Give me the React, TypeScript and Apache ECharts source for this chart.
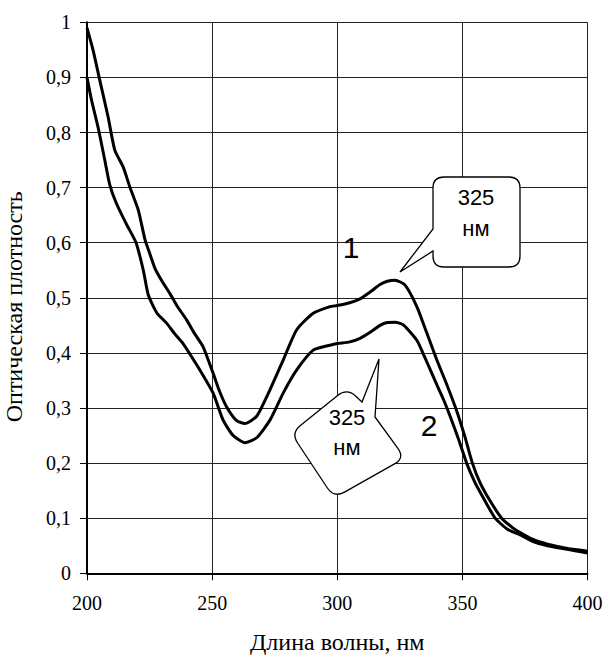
import React, { useEffect, useRef } from "react";
import * as echarts from "echarts";

// Wavelength (nm) and optical density readings for curve 1 (upper)
const curve1Wavelength = [200, 202.4, 205.1, 208.4, 211.1, 214.4, 217.2, 220.5, 223.2, 225.1, 227.2, 230, 233.1, 236, 239.8, 243, 246.4, 250.4, 253, 255.8, 259.8, 263.1, 267.8, 273.1, 278.4, 283.8, 290.4, 297.1, 300, 305, 309.1, 313, 317.1, 320, 323.1, 327.1, 331.8, 335.8, 339.8, 343.3, 347.7, 351, 354, 357, 361, 365.7, 370, 373.1, 378, 384, 390, 395, 400];
const curve1Density = [0.99, 0.95, 0.895, 0.829, 0.768, 0.738, 0.7, 0.659, 0.605, 0.58, 0.553, 0.53, 0.508, 0.485, 0.46, 0.435, 0.411, 0.363, 0.33, 0.302, 0.277, 0.272, 0.285, 0.333, 0.387, 0.442, 0.472, 0.484, 0.486, 0.491, 0.498, 0.51, 0.524, 0.53, 0.532, 0.523, 0.484, 0.436, 0.387, 0.348, 0.295, 0.248, 0.2, 0.165, 0.132, 0.1, 0.083, 0.074, 0.062, 0.053, 0.047, 0.043, 0.04];

// Curve 2 (lower)
const curve2Wavelength = [200, 201.8, 204.4, 207.1, 209.1, 211.6, 215.6, 219.6, 222.5, 224.5, 228, 231.8, 235, 238.4, 241.8, 245.1, 250.4, 254.4, 258.4, 263.1, 267.8, 273.1, 278.4, 283.8, 290.4, 297.1, 300, 305, 309.1, 313, 317.1, 320, 323.1, 326.4, 331.8, 334.5, 337.1, 340, 342.5, 345.1, 348.5, 351.7, 355, 358, 363.1, 368, 373.1, 378, 384, 390, 395, 400];
const curve2Density = [0.9, 0.859, 0.81, 0.75, 0.705, 0.673, 0.635, 0.6, 0.55, 0.505, 0.472, 0.454, 0.435, 0.417, 0.393, 0.369, 0.327, 0.278, 0.25, 0.237, 0.246, 0.278, 0.327, 0.369, 0.405, 0.414, 0.417, 0.42, 0.4265, 0.437, 0.45, 0.455, 0.4555, 0.451, 0.423, 0.397, 0.37, 0.34, 0.315, 0.285, 0.243, 0.2, 0.165, 0.14, 0.1, 0.08, 0.0695, 0.058, 0.05, 0.045, 0.041, 0.037];

const xTicks = [200, 250, 300, 350, 400];
const yTicks = [0, 0.1, 0.2, 0.3, 0.4, 0.5, 0.6, 0.7, 0.8, 0.9, 1];

const xTitle = "Длина волны, нм";
const yTitle = "Оптическая плотность";
const curveLabels = ["1", "2"];
const calloutLines = ["325", "нм"];

type V = [number, number, number];

function roundedPath(pts: V[]): string {
  const n = pts.length;
  let d = "";
  const f = (v: number) => v.toFixed(1);
  for (let i = 0; i < n; i++) {
    const [x, y, r] = pts[i];
    const [px, py] = pts[(i - 1 + n) % n];
    const [nx, ny] = pts[(i + 1) % n];
    if (r > 0) {
      const l0 = Math.hypot(px - x, py - y);
      const l1 = Math.hypot(nx - x, ny - y);
      const ax = x + ((px - x) * r) / l0;
      const ay = y + ((py - y) * r) / l0;
      const bx = x + ((nx - x) * r) / l1;
      const by = y + ((ny - y) * r) / l1;
      d += (i === 0 ? "M" : "L") + f(ax) + "," + f(ay) + " Q" + f(x) + "," + f(y) + " " + f(bx) + "," + f(by) + " ";
    } else {
      d += (i === 0 ? "M" : "L") + f(x) + "," + f(y) + " ";
    }
  }
  return d + "Z";
}

export default function App() {
  const ref = useRef<HTMLDivElement>(null);
  useEffect(() => {
    if (!ref.current) return;
    const upper: V[] = [
      [433, 177, 11], [520, 177, 11], [520, 267, 11], [433, 267, 11],
      [433, 251, 0], [400, 272, 0], [433, 229, 0],
    ];
    const lower: V[] = [
      [291, 433, 12], [347, 388, 12], [362, 402, 0], [379, 359, 0], [375, 417, 0],
      [405, 458, 12], [334, 498, 12],
    ];
    echarts.graphic.registerShape("calloutUpper", echarts.graphic.extendPath(roundedPath(upper), {}) as any);
    echarts.graphic.registerShape("calloutLower", echarts.graphic.extendPath(roundedPath(lower), {}) as any);

    const chart = echarts.init(ref.current, undefined, { renderer: "svg" });
    const serif = "Liberation Serif";
    const sans = "Liberation Sans";
    const fmt = (v: number) => String(Math.round(v * 10) / 10).replace(".", ",");
    const boxStyle = { fill: "#fff", stroke: "#000", lineWidth: 1.3 };
    const txt = (text: string, x: number, y: number, size: number) => ({
      type: "text",
      x,
      y,
      z: 110,
      style: { text, fontSize: size, fontFamily: sans, fill: "#000", align: "center", verticalAlign: "middle" },
    });

    chart.setOption({
      animation: false,
      backgroundColor: "#fff",
      textStyle: { fontFamily: serif },
      grid: { left: 87, right: 17.5, top: 22.3, bottom: 81.7, containLabel: false, outerBoundsMode: "none" },
      xAxis: {
        type: "value",
        min: xTicks[0],
        max: xTicks[xTicks.length - 1],
        interval: 50,
        name: xTitle,
        nameLocation: "middle",
        nameGap: 57,
        nameTextStyle: { fontFamily: serif, fontSize: 24, color: "#000" },
        axisLine: { lineStyle: { color: "#000", width: 2 } },
        axisTick: { show: true, length: 7, lineStyle: { color: "#000", width: 1 } },
        axisLabel: { fontFamily: serif, fontSize: 20, color: "#000", margin: 20 },
        splitLine: { show: true, lineStyle: { color: "#222", width: 1 } },
      },
      yAxis: {
        type: "value",
        min: yTicks[0],
        max: yTicks[yTicks.length - 1],
        interval: 0.1,
        name: yTitle,
        nameLocation: "middle",
        nameGap: 61,
        nameRotate: 90,
        nameTextStyle: { fontFamily: serif, fontSize: 24, color: "#000", padding: [0, 18, 0, 0] },
        axisLine: { show: true, lineStyle: { color: "#000", width: 2 } },
        axisTick: { show: true, length: 7, lineStyle: { color: "#000", width: 1 } },
        axisLabel: { fontFamily: serif, fontSize: 20, color: "#000", margin: 16, formatter: fmt },
        splitLine: { show: true, lineStyle: { color: "#222", width: 1 } },
      },
      series: [
        {
          type: "line",
          name: curveLabels[0],
          data: curve1Wavelength.map((w, i) => [w, curve1Density[i]]),
          symbol: "none",
          smooth: 0.2,
          lineStyle: { color: "#000", width: 3 },
          z: 5,
        },
        {
          type: "line",
          name: curveLabels[1],
          data: curve2Wavelength.map((w, i) => [w, curve2Density[i]]),
          symbol: "none",
          smooth: 0.2,
          lineStyle: { color: "#000", width: 3 },
          z: 5,
        },
      ],
      graphic: [
        { type: "calloutUpper", x: 0, y: 0, z: 100, style: boxStyle },
        { type: "calloutLower", x: 0, y: 0, z: 100, style: boxStyle },
        txt(calloutLines[0], 476, 197, 22),
        txt(calloutLines[1], 476, 228, 22),
        txt(calloutLines[0], 347, 417, 22),
        txt(calloutLines[1], 347, 447, 22),
        txt(curveLabels[0], 351, 247, 30),
        txt(curveLabels[1], 429, 425, 30),
      ],
    });
    return () => chart.dispose();
  }, []);
  return (
    <div
      ref={ref}
      style={{ position: "fixed", left: 0, top: 0, width: 605, height: 655, background: "#fff" }}
    />
  );
}
